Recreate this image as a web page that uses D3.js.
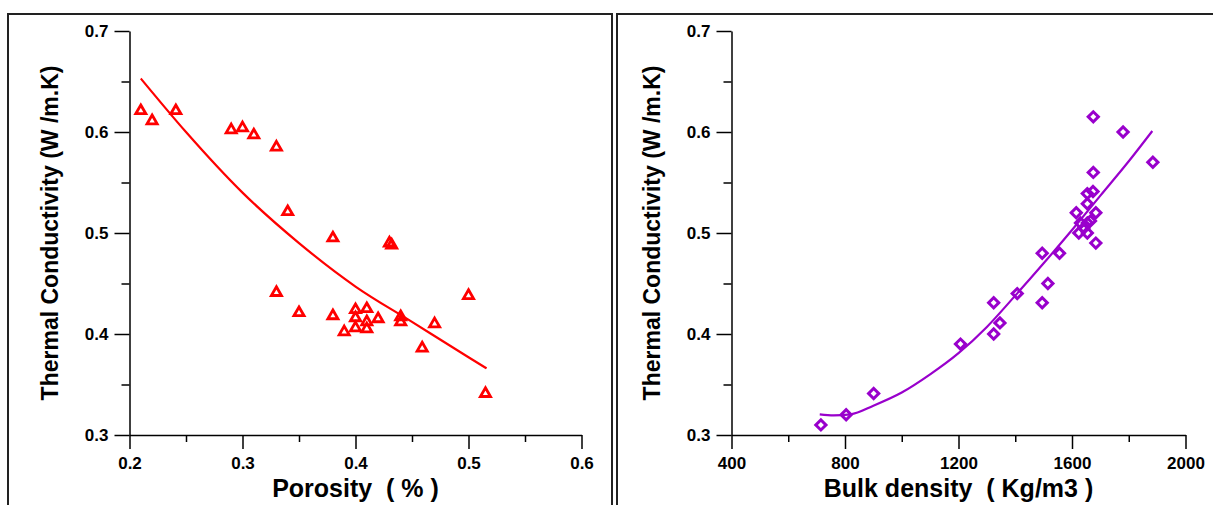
<!DOCTYPE html>
<meta charset="utf-8">
<body style="margin:0;background:white">
  <div id="content"></div>
</body>
<script src="https://cdn.jsdelivr.net/npm/d3@7"></script>
<script>
// left panel: porosity vs conductivity
var porosity = [0.210, 0.220, 0.241, 0.290, 0.300, 0.310, 0.330, 0.340, 0.380, 0.430, 0.432,
  0.330, 0.350, 0.380, 0.400, 0.410, 0.400, 0.410, 0.420, 0.390, 0.400, 0.410,
  0.440, 0.440, 0.470, 0.500, 0.459, 0.515];
var condPor = [0.621, 0.611, 0.621, 0.602, 0.604, 0.597, 0.585, 0.521, 0.495, 0.490, 0.488,
  0.441, 0.421, 0.418, 0.424, 0.425, 0.416, 0.412, 0.415, 0.402, 0.406, 0.405,
  0.417, 0.412, 0.410, 0.438, 0.386, 0.341];
// fitted curve, points
var fitPorX = [0.210, 0.250, 0.300, 0.350, 0.400, 0.450, 0.500, 0.516];
var fitPorY = [0.653, 0.600, 0.540, 0.490, 0.447, 0.412, 0.377, 0.366];

// right panel: bulk density vs conductivity
var density = [715, 804, 901, 1207, 1324, 1346, 1324, 1407, 1495, 1515, 1495, 1556, 1684,
  1615, 1684, 1654, 1674, 1654, 1630, 1654, 1642, 1624, 1654, 1665, 1675, 1675, 1780, 1885];
var condDen = [0.310, 0.320, 0.341, 0.390, 0.400, 0.411, 0.431, 0.440, 0.431, 0.450, 0.480,
  0.480, 0.490, 0.520, 0.520, 0.539, 0.541, 0.529, 0.510, 0.510, 0.505, 0.500, 0.500,
  0.512, 0.560, 0.615, 0.600, 0.570];
var fitDenX = [711, 760, 820, 900, 1000, 1100, 1200, 1300, 1400, 1500, 1600, 1700, 1800, 1883];
var fitDenY = [0.3205, 0.3195, 0.3205, 0.329, 0.342, 0.360, 0.381, 0.407, 0.438, 0.470, 0.503, 0.537, 0.571, 0.601];

// ticks
var porMajor = [0.2, 0.3, 0.4, 0.5, 0.6];
var porMinor = [0.25, 0.35, 0.45, 0.55];
var denMajor = [400, 800, 1200, 1600, 2000];
var denMinor = [600, 1000, 1400, 1800];
var condMajor = [0.3, 0.4, 0.5, 0.6, 0.7];
var condMinor = [0.35, 0.45, 0.55, 0.65];

var yTitle = "Thermal Conductivity (W /m.K)";
var font = "'Liberation Sans', Arial, sans-serif";

var svg = d3.select('#content').append('svg')
  .attr('width', 1213).attr('height', 505)
  .style('display', 'block');

// panel frames
svg.append('rect').attr('x', 8).attr('y', 14).attr('width', 604).attr('height', 520)
  .attr('fill', 'none').attr('stroke', '#222').attr('stroke-width', 2);
svg.append('rect').attr('x', 617).attr('y', 14).attr('width', 620).attr('height', 520)
  .attr('fill', 'none').attr('stroke', '#222').attr('stroke-width', 2);

function styleAxis(g) {
  g.selectAll('path, line').attr('stroke', '#000').attr('stroke-width', 1.5);
  g.selectAll('text').attr('font-family', font).attr('font-weight', 'bold')
    .attr('font-size', 17).attr('fill', '#000');
}

function panel(o) {
  var x = d3.scaleLinear().domain(o.xDomain).range(o.xRange);
  var y = d3.scaleLinear().domain([0.3, 0.7]).range([435, 31]);

  var gx = svg.append('g').attr('transform', 'translate(0,435)');
  gx.call(d3.axisBottom(x).tickValues(o.xMajor).tickSize(14).tickSizeOuter(0)
    .tickPadding(8).tickFormat(o.xFormat));
  gx.append('g').call(d3.axisBottom(x).tickValues(o.xMinor).tickSize(7).tickFormat(''))
    .select('.domain').remove();
  styleAxis(gx);

  var gy = svg.append('g').attr('transform', 'translate(' + o.xRange[0] + ',0)');
  gy.call(d3.axisLeft(y).tickValues(condMajor).tickSize(15).tickSizeOuter(0)
    .tickPadding(6).tickFormat(d3.format('.1f')));
  gy.append('g').call(d3.axisLeft(y).tickValues(condMinor).tickSize(8).tickFormat(''))
    .select('.domain').remove();
  styleAxis(gy);

  // titles
  svg.append('text')
    .attr('x', (o.xRange[0] + o.xRange[1]) / 2).attr('y', 497)
    .attr('text-anchor', 'middle').attr('font-family', font).attr('font-weight', 'bold')
    .attr('font-size', 25).style('white-space', 'pre')
    .text(o.xTitle);
  svg.append('text')
    .attr('transform', 'translate(' + (o.xRange[0] - 72) + ',' + y(0.5) + ') rotate(-90)')
    .attr('text-anchor', 'middle').attr('font-family', font).attr('font-weight', 'bold')
    .attr('font-size', 23)
    .text(yTitle);

  // fit curve
  var line = d3.line()
    .x(function (d, i) { return x(o.fitX[i]); })
    .y(function (d, i) { return y(o.fitY[i]); })
    .curve(d3.curveMonotoneX);
  svg.append('path').datum(o.fitX).attr('d', line)
    .attr('fill', 'none').attr('stroke', o.color).attr('stroke-width', 2.2);

  // markers
  var sym = d3.symbol().type(o.symbol).size(o.symbolSize);
  svg.append('g').selectAll('path').data(o.xs).enter().append('path')
    .attr('d', sym)
    .attr('transform', function (d, i) {
      return 'translate(' + x(d) + ',' + y(o.ys[i]) + ')' + (o.rotate ? ' rotate(45)' : '');
    })
    .attr('fill', 'none').attr('stroke', o.color).attr('stroke-width', o.strokeWidth);
}

panel({
  xDomain: [0.2, 0.6], xRange: [129.5, 581.5],
  xMajor: porMajor, xMinor: porMinor, xFormat: d3.format('.1f'),
  xTitle: 'Porosity  ( % )',
  xs: porosity, ys: condPor, fitX: fitPorX, fitY: fitPorY,
  color: '#ff0000', symbol: d3.symbolTriangle, symbolSize: 44, strokeWidth: 2.8
});

panel({
  xDomain: [400, 2000], xRange: [731.5, 1185.5],
  xMajor: denMajor, xMinor: denMinor, xFormat: d3.format('d'),
  xTitle: 'Bulk density  ( Kg/m3 )',
  xs: density, ys: condDen, fitX: fitDenX, fitY: fitDenY,
  color: '#9900cc', symbol: d3.symbolSquare, symbolSize: 52, strokeWidth: 3, rotate: true
});
</script>
